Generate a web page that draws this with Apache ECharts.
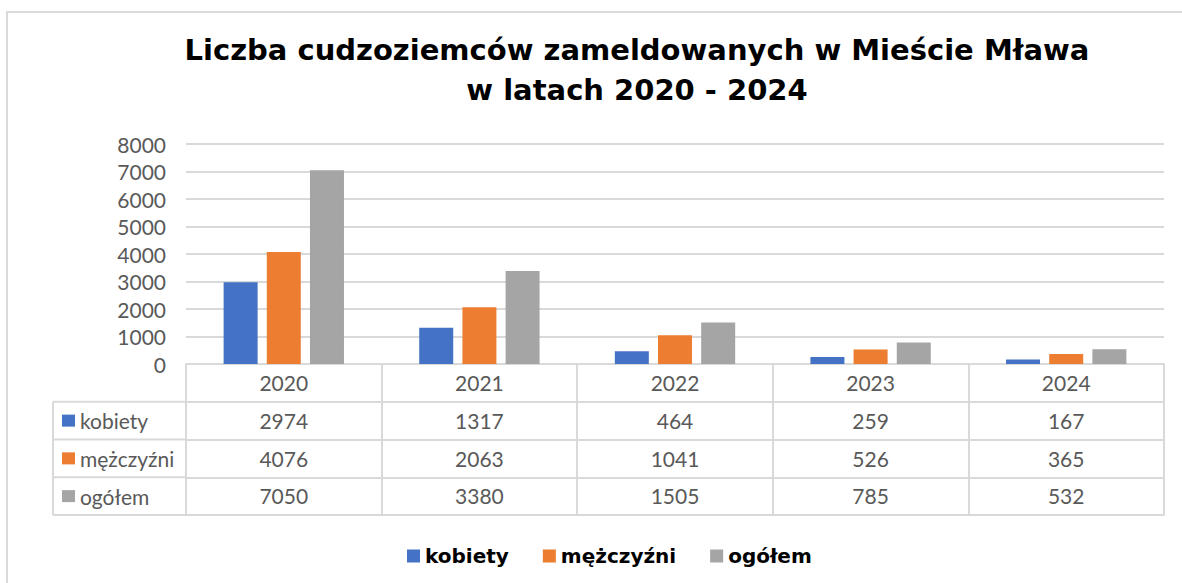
<!DOCTYPE html>
<html>
<head>
<meta charset="utf-8">
<script src="https://cdn.jsdelivr.net/npm/echarts@6/dist/echarts.min.js"></script>
<style>
  html, body { margin: 0; padding: 0; background: #fff; }
  #chart { width: 1182px; height: 583px; }
</style>
</head>
<body>
<div id="chart"></div>
<script>
// data
var years = ['2020', '2021', '2022', '2023', '2024'];
var seriesNames = ['kobiety', 'mężczyźni', 'ogółem'];
var kobiety = [2974, 1317, 464, 259, 167];
var mezczyzni = [4076, 2063, 1041, 526, 365];
var ogolem = [7050, 3380, 1505, 785, 532];
var yTicks = [0, 8000, 1000]; // min, max, interval

(function() {
  var colors = ['#4472C4', '#ED7D31', '#A5A5A5'];
  var values = [kobiety, mezczyzni, ogolem];
  var rule = '#D9D9D9';
  var muted = '#595959';
  var labelFont = 'Lato';
  var labelSize = 21;
  var rowH = 37.75;

  var chart = echarts.init(document.getElementById('chart'), null, { renderer: 'svg' });

  // header axis + one axis per table row (their ticks make the cell borders)
  var xAxes = [{
    type: 'category',
    data: years,
    position: 'bottom',
    axisLine: { show: true, lineStyle: { color: rule, width: 2 } },
    axisTick: { show: true, interval: 0, length: rowH, lineStyle: { color: rule, width: 2 } },
    axisLabel: { color: muted, fontSize: labelSize, fontFamily: labelFont, margin: 8, interval: 0 }
  }];
  values.forEach(function(vals, i) {
    xAxes.push({
      type: 'category',
      data: vals.map(String),
      position: 'bottom',
      offset: rowH * (i + 1),
      axisLine: { show: true, lineStyle: { color: rule, width: 2 } },
      axisTick: { show: true, interval: 0, length: rowH, lineStyle: { color: rule, width: 2 } },
      axisLabel: { color: muted, fontSize: labelSize, fontFamily: labelFont, margin: 8, interval: 0 }
    });
  });
  xAxes.push({
    type: 'category',
    data: years,
    position: 'bottom',
    offset: rowH * 4,
    axisLine: { show: true, lineStyle: { color: rule, width: 2 } },
    axisTick: { show: false },
    axisLabel: { show: false }
  });

  var L = 53, R = 186, top0 = 364 + rowH;
  var tableLines = [];
  for (var k = 0; k < 4; k++) {
    var y = top0 + rowH * k;
    tableLines.push({ type: 'line', shape: { x1: L, y1: y, x2: R, y2: y }, style: { stroke: rule, lineWidth: 2 }, silent: true });
  }
  tableLines.push({ type: 'line', shape: { x1: L, y1: top0, x2: L, y2: top0 + rowH * 3 }, style: { stroke: rule, lineWidth: 2 }, silent: true });

  chart.setOption({
    animation: false,
    title: {
      text: 'Liczba cudzoziemców zameldowanych w Mieście Mława\nw latach 2020 - 2024',
      left: 637,
      top: 30,
      padding: 0,
      textAlign: 'center',
      textStyle: { fontFamily: 'DejaVu Sans', fontWeight: 'bold', fontSize: 29, lineHeight: 40, color: '#000' }
    },
    legend: [{
      data: seriesNames,
      left: 402,
      top: 541,
      icon: 'rect',
      itemWidth: 13,
      itemHeight: 13,
      itemGap: 34,
      selectedMode: false,
      textStyle: { fontFamily: 'DejaVu Sans', fontWeight: 'bold', fontSize: 20, color: '#000' }
    }, {
      data: seriesNames,
      orient: 'vertical',
      left: 62,
      top: top0 + rowH / 2 - 11,
      padding: 0,
      icon: 'rect',
      itemWidth: 13,
      itemHeight: 12,
      itemGap: rowH - 22,
      selectedMode: false,
      textStyle: { fontFamily: labelFont, fontSize: labelSize, lineHeight: 22, color: muted }
    }],
    grid: { left: 186, right: 18, top: 144, bottom: 219, containLabel: false },
    xAxis: xAxes,
    yAxis: {
      type: 'value',
      min: yTicks[0],
      max: yTicks[1],
      interval: yTicks[2],
      axisLine: { show: false },
      axisTick: { show: false },
      axisLabel: { color: muted, fontSize: labelSize, fontFamily: labelFont, margin: 20, formatter: function(v) { return String(v); } },
      splitLine: { lineStyle: { color: rule, width: 2 } }
    },
    series: seriesNames.map(function(name, i) {
      return {
        name: name,
        type: 'bar',
        xAxisIndex: 0,
        data: values[i],
        barWidth: 34,
        barGap: '27%',
        itemStyle: { color: colors[i] }
      };
    }),
    graphic: [{
      type: 'rect',
      shape: { x: 7, y: 12, width: 1200, height: 600 },
      style: { fill: 'none', stroke: rule, lineWidth: 2 },
      silent: true,
      z: -10
    }].concat(tableLines)
  });
  window.addEventListener('resize', function() { chart.resize(); });
})();
</script>
</body>
</html>
